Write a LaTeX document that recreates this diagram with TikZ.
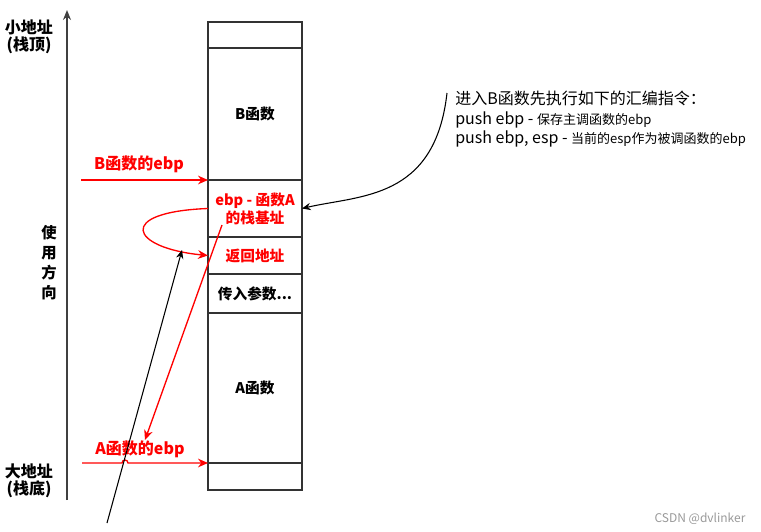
\documentclass[tikz,border=0pt]{standalone}
\usepackage{fontspec}
\setmainfont{Noto Sans CJK SC}
\usetikzlibrary{arrows.meta,positioning}
\tikzset{
  cell/.style={draw=black!80, line width=0.8pt, minimum width=70.5pt, inner sep=0pt, outer sep=0pt, font=\fontsize{11}{13.5}\selectfont\bfseries},
  lbl/.style={font=\fontsize{12}{12.75}\selectfont\bfseries, align=center, inner sep=0pt},
  redptr/.style={-{Stealth[length=7.5pt,width=6.5pt]}, line width=1pt, red},
  blkptr/.style={-{Stealth[length=6.5pt,width=5.5pt]}, line width=0.8pt, black},
  axis/.style={-{Stealth[length=7.5pt,width=6pt]}, line width=1pt, black!75},
  note/.style={font=\fontsize{12}{14.6}\selectfont, align=left, inner sep=0pt},
}

\begin{document}
\begin{tikzpicture}[x=0.75pt, y=-0.75pt]
\useasboundingbox (0,0) rectangle (761,532);
% stack cells
\node[cell, minimum height=19.5pt, anchor=north] (cTop) at (255,22) {};
\node[cell, minimum height=99pt, below=0pt of cTop] (cB) {B函数};
\node[cell, minimum height=42.75pt, below=0pt of cB, text=red, align=center] (cEbp) {ebp - 函数A\\的栈基址};
\node[cell, minimum height=27.75pt, below=0pt of cEbp, text=red] (cRet) {返回地址};
\node[cell, minimum height=29.25pt, below=0pt of cRet] (cArg) {传入参数...};
\node[cell, minimum height=112.5pt, below=0pt of cArg] (cA) {A函数};
\node[cell, minimum height=20.25pt, below=0pt of cA] (cBot) {};
% address axis
\coordinate (axBot) at (67,500);
\coordinate (axTop) at (67,10);
\draw[axis] (axBot) -- (axTop);
\node[lbl] (small) at (29,37) {小地址\\(栈顶)};
\node[lbl] (big) at (29,481) {大地址\\(栈底)};
\node[lbl, font=\fontsize{11.5}{15}\selectfont\bfseries] (useDir) at (49,263) {使\\用\\方\\向};
% ebp pointers
\coordinate (bFrom) at (81,180);
\node[lbl, text=red] (bLbl) at (139,164) {B函数的ebp};
\draw[redptr] (bFrom) -- (cEbp.north west);
\coordinate (aFrom) at (82,463);
\node[lbl, text=red] (aLbl) at (140,449) {A函数的ebp};
\draw[redptr] (aFrom) -- (122,463) arc[start angle=180, end angle=360, radius=3] -- (cBot.north west);
\draw[redptr] (cEbp.west) .. controls (115,212) and (130,248) .. (cRet.west);
\coordinate (ebpIn) at (222,225);
\coordinate (ebpOut) at (145,440);
\draw[redptr] (ebpIn) -- (ebpOut);
\coordinate (retFrom) at (107,523);
\coordinate (retTo) at (182,250);
\draw[blkptr] (retFrom) -- (retTo);
% note
\node[note, anchor=north west] (note) at (455,91) {进入B函数先执行如下的汇编指令：\\push ebp - {\fontsize{9.75}{14.6}\selectfont 保存主调函数的ebp}\\push ebp, esp - {\fontsize{9.75}{14.6}\selectfont 当前的esp作为被调函数的ebp}};
\coordinate (noteTail) at (447,93);
\draw[blkptr] (noteTail) .. controls (435,200) and (360,195) .. (cEbp.east);
\node[font=\fontsize{9}{10}\selectfont, text=black!40] (mark) at (700,519) {CSDN @dvlinker};
\end{tikzpicture}
\end{document}
